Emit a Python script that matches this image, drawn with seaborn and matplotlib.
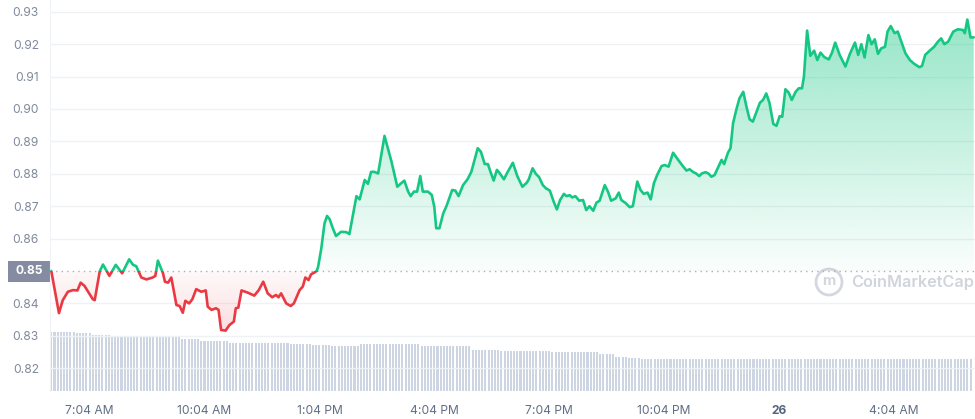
#!/usr/bin/env python3
"""
24h price chart (CoinMarketCap style): price line coloured against the
opening price, gradient fill, and volume bars along the bottom.
"""
import matplotlib
matplotlib.use('Agg')
import matplotlib.pyplot as plt
from matplotlib.path import Path
from matplotlib.patches import Rectangle, Ellipse
import numpy as np
import seaborn as sns

BASELINE = 0.85
GREEN = '#16c784'
RED = '#ea3943'

# minutes after 6:04 AM
minutes = [0, 12, 18, 26, 34, 41, 46, 52, 59, 65, 68, 76, 81, 91, 101, 111,
           122, 128, 133, 141, 149, 159, 163, 167, 175, 178, 183, 188, 196,
           201, 206, 210, 216, 221, 227, 235, 242,
           245, 251, 258, 262, 266, 273, 279, 286, 289, 293, 298, 308, 318,
           325, 332, 339, 346, 352, 356, 360, 368, 375, 380, 389, 394, 398,
           403, 407, 412, 416,
           418, 423, 428, 432, 436, 441, 446, 454, 462, 467, 473, 478, 483,
           491, 496, 501, 506, 512, 522, 533, 542, 547, 553, 559, 563, 568,
           573, 578, 582, 590, 596, 600, 603, 608, 614, 619, 628, 633, 638,
           645, 652,
           658, 663, 668, 673, 679, 684, 688, 693, 698, 702, 709, 715, 723,
           730, 738, 745, 748, 754, 759, 764, 770, 775, 781, 787, 792, 797,
           803, 807, 812, 816, 821, 827, 833, 838, 843, 849, 854, 859, 867,
           872, 877, 884, 889, 893, 900, 906, 911,
           918, 923, 928, 934, 939, 944, 949, 956, 961, 967, 974, 982, 990,
           995, 1000, 1005, 1010, 1015, 1019, 1025, 1030, 1034, 1039, 1045,
           1050, 1054, 1060, 1064, 1068, 1073, 1078, 1084, 1089, 1094, 1099,
           1104, 1110, 1115, 1120, 1125, 1131, 1136, 1141, 1145, 1150, 1155,
           1160, 1166, 1171, 1176, 1179,
           1184, 1189, 1195, 1200, 1205, 1211, 1218, 1223, 1228, 1235, 1244,
           1251, 1259, 1264, 1269, 1274, 1280, 1285, 1290, 1295, 1300, 1306,
           1310, 1315, 1321, 1326, 1332, 1338, 1345, 1352, 1360, 1364, 1369,
           1376, 1383, 1389, 1394, 1399, 1405, 1413, 1420, 1428, 1431, 1435,
           1440, 1445]

prices = [0.850, 0.837, 0.841, 0.8436, 0.8441, 0.844, 0.8464, 0.8454, 0.8432,
          0.8413, 0.841, 0.850, 0.852, 0.8485, 0.8519, 0.8493, 0.8536, 0.8519,
          0.8515, 0.848, 0.8474, 0.848, 0.8485, 0.8532, 0.8493, 0.8467,
          0.8464, 0.848, 0.8395, 0.8392, 0.8371, 0.8408, 0.840, 0.8413,
          0.8444, 0.8436, 0.844,
          0.839, 0.838, 0.8385, 0.838, 0.8318, 0.8316, 0.8333, 0.8344,
          0.8385, 0.8387, 0.844, 0.8433, 0.8424, 0.8441, 0.8467, 0.8431,
          0.8419, 0.8426, 0.8419, 0.8431, 0.840, 0.8392, 0.840, 0.8441,
          0.8452, 0.848, 0.8472, 0.849, 0.8495, 0.8501,
          0.8513, 0.857, 0.8647, 0.867, 0.866, 0.8632, 0.8608, 0.8621, 0.862,
          0.8614, 0.8678, 0.8731, 0.8721, 0.8781, 0.8769, 0.8806, 0.8806,
          0.8801, 0.8917, 0.8837, 0.876, 0.8769, 0.8779, 0.8745, 0.8731,
          0.8745, 0.8745, 0.8793, 0.8745, 0.8745, 0.8735, 0.8698, 0.8632,
          0.8632, 0.8678, 0.870, 0.875, 0.8748, 0.8731, 0.8765, 0.8783,
          0.8806, 0.8843, 0.8879, 0.8868, 0.883, 0.883, 0.8806, 0.8779,
          0.8812, 0.8803, 0.8783, 0.8806, 0.8834, 0.8793, 0.876, 0.8773,
          0.8783, 0.8817, 0.880, 0.879, 0.8765, 0.8755, 0.8748, 0.8714, 0.869,
          0.8719, 0.8738, 0.8731, 0.8734, 0.8727, 0.8731, 0.8717, 0.8719,
          0.8688, 0.870, 0.8686, 0.8711, 0.8717, 0.8765, 0.8745, 0.8717,
          0.8724, 0.8742, 0.8719, 0.8709, 0.8697, 0.870,
          0.8776, 0.875, 0.8738, 0.8742, 0.8721, 0.8771, 0.8796, 0.8824,
          0.8827, 0.8822, 0.8865, 0.8843, 0.8822, 0.881, 0.8814, 0.8806,
          0.8801, 0.8793, 0.8801, 0.8805, 0.880, 0.8791, 0.8796, 0.8822,
          0.8843, 0.883, 0.8865, 0.8879, 0.8956, 0.8997, 0.9033, 0.9053,
          0.9007, 0.8968, 0.8961, 0.8987, 0.9019, 0.9028, 0.9048, 0.9019,
          0.8954, 0.8948, 0.8978, 0.8976, 0.9061, 0.9051, 0.9028, 0.9053,
          0.9064, 0.9064, 0.910,
          0.9242, 0.9164, 0.918, 0.9151, 0.9174, 0.916, 0.9153, 0.9174,
          0.9205, 0.9167, 0.9131, 0.917, 0.9205, 0.9167, 0.920, 0.9159,
          0.9228, 0.920, 0.9215, 0.917, 0.9187, 0.9192, 0.9239, 0.9256,
          0.9234, 0.9239, 0.9205, 0.9172, 0.9151, 0.9139, 0.9129, 0.9133,
          0.9167, 0.918, 0.9192, 0.9208, 0.9218, 0.920, 0.9208, 0.9239,
          0.9246, 0.9244, 0.9234, 0.9276, 0.9221, 0.9221]

# volume (relative units), one bar every 5 minutes, stored as level / run
vol_levels = [150, 148, 143, 140, 137, 133, 128, 124, 120, 117, 116, 120,
              116, 106, 102, 99, 94, 88, 84, 82]
vol_runs = [8, 5, 6, 13, 9, 6, 9, 19, 7, 6, 9, 19, 16, 9, 16, 15, 5, 4, 4, 104]

tick_minutes = [60, 240, 420, 600, 780, 960, 1140, 1320]
tick_labels = ['7:04 AM', '10:04 AM', '1:04 PM', '4:04 PM', '7:04 PM',
               '10:04 PM', '26', '4:04 AM']
price_ticks = [0.82, 0.83, 0.84, 0.86, 0.87, 0.88, 0.89, 0.90, 0.91, 0.92, 0.93]

XMIN, XMAX = -2, 1447
YMIN, YMAX = 0.81296, 0.93364

sns.set_style('white')
plt.rcParams['font.family'] = ['Inter', 'DejaVu Sans']

fig = plt.figure(figsize=(9.75, 4.19), dpi=100)
ax = fig.add_axes([0.0513, 0.0668, 0.9487, 0.9332])
ax2 = ax.twinx()
ax.set_zorder(2)
ax.patch.set_visible(False)

# volume bars
volume = np.repeat(vol_levels, vol_runs)
bar_x = np.arange(len(volume)) * 5
ax2.bar(bar_x, volume, width=3.2, color='#cdd4e2', linewidth=0)
ax2.set_ylim(0, 1000)
ax2.axis('off')

# gradient fills clipped to the area between line and baseline
poly = ax.fill_between(minutes, prices, BASELINE, interpolate=True,
                       facecolor='none', edgecolor='none')
clip = Path.make_compound_path(*poly.get_paths())


def gradient(color, a_base, a_far, n=256):
    rgba = np.zeros((n, 1, 4))
    rgba[..., :3] = matplotlib.colors.to_rgb(color)
    rgba[:, 0, 3] = np.linspace(a_base, a_far, n)
    return rgba


im_up = ax.imshow(gradient(GREEN, 0.02, 0.48), origin='lower', aspect='auto',
                  extent=[XMIN, XMAX, BASELINE, YMAX], zorder=1)
im_up.set_clip_path(clip, ax.transData)
im_dn = ax.imshow(gradient(RED, 0.03, 0.30)[::-1], origin='lower',
                  aspect='auto', extent=[XMIN, XMAX, YMIN, BASELINE], zorder=1)
im_dn.set_clip_path(clip, ax.transData)

# price line: green above baseline, red below
sns.lineplot(x=minutes, y=prices, ax=ax, color=GREEN, linewidth=1.9, zorder=4)
line_up = ax.lines[-1]
line_up.set_clip_path(Rectangle((XMIN, BASELINE), XMAX - XMIN, 1,
                                transform=ax.transData))
sns.lineplot(x=minutes, y=prices, ax=ax, color=RED, linewidth=1.9, zorder=4)
line_dn = ax.lines[-1]
line_dn.set_clip_path(Rectangle((XMIN, BASELINE - 1), XMAX - XMIN, 1,
                                transform=ax.transData))

ax.axhline(BASELINE, color='#a6b0c3', linestyle=(0, (1, 3)), linewidth=1,
           zorder=3)

ax.set_xlim(XMIN, XMAX)
ax.set_ylim(YMIN, YMAX)
ax.set_xlabel('')
ax.set_ylabel('')

ax.set_yticks(price_ticks)
ax.set_yticklabels([f'{v:.2f}' for v in price_ticks])
ax.set_xticks(tick_minutes)
ax.set_xticklabels(tick_labels)
ax.tick_params(axis='y', length=0, pad=8, labelsize=8.7, labelcolor='#808a9d')
ax.tick_params(axis='x', length=3, width=1, color='#cfd6e4', pad=7,
               labelsize=8.7, labelcolor='#616e85')
for lab in ax.get_xticklabels():
    if lab.get_text() == '26':
        lab.set_fontweight('bold')
        lab.set_color('#58667e')

ax.grid(axis='y', color='#eff2f5', linewidth=1)
ax.set_axisbelow(True)
for side in ['top', 'right', 'bottom']:
    ax.spines[side].set_visible(False)
ax.spines['left'].set_color('#f1f3f6')

# baseline price tag (grey box left of the axis)
fig.patches.append(Rectangle((8 / 975, 1 - 282 / 419), 42 / 975, 21 / 419,
                             transform=fig.transFigure, fc='#858ca2',
                             ec='none', zorder=1))
fig.text(29 / 975, 1 - 271.5 / 419, f'{BASELINE:.2f}', ha='center',
         va='center', fontsize=8.7, fontweight='bold', color='white',
         zorder=6)

# watermark
fig.patches.append(Ellipse((829 / 975, 1 - 282 / 419), 26 / 975, 26 / 419,
                           transform=fig.transFigure, fill=False,
                           ec='#d3d7df', lw=2))
fig.text(829 / 975, 1 - 281 / 419, 'm', ha='center', va='center',
         fontsize=10.5, color='#d3d7df', fontweight='bold')
fig.text(851 / 975, 1 - 282 / 419, 'CoinMarketCap', ha='left', va='center',
         fontsize=11.7, color='#d0d4dd', fontweight='semibold')

fig.savefig('out.png', dpi=100)
